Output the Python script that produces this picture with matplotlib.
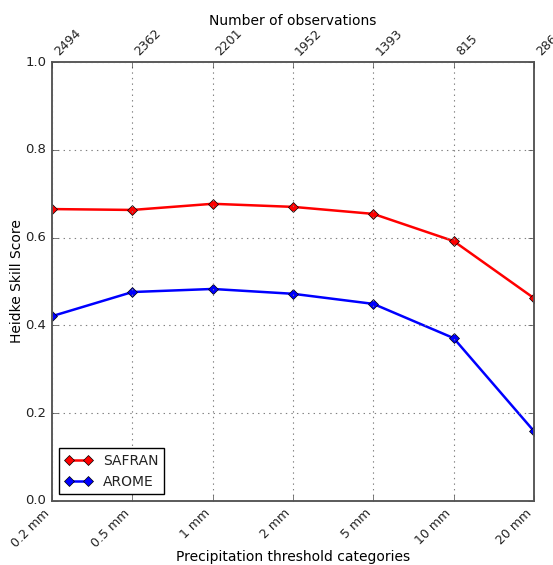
import matplotlib
matplotlib.use("Agg")
import matplotlib.pyplot as plt
import numpy as np

categories = ["0.2 mm", "0.5 mm", "1 mm", "2 mm", "5 mm", "10 mm", "20 mm"]
n_obs = [2494, 2362, 2201, 1952, 1393, 815, 286]
safran = [0.665, 0.663, 0.677, 0.670, 0.654, 0.592, 0.462]
arome = [0.421, 0.476, 0.483, 0.472, 0.449, 0.371, 0.159]

plt.style.use("classic")
plt.rcParams["font.family"] = "DejaVu Sans"
plt.rcParams["text.color"] = "#222222"
plt.rcParams["xtick.color"] = "#444444"
plt.rcParams["ytick.color"] = "#444444"
plt.rcParams["xtick.labelcolor"] = "#222222"
plt.rcParams["ytick.labelcolor"] = "#222222"

fig = plt.figure(figsize=(5.53, 5.65), dpi=100, facecolor="white")
ax = fig.add_axes([52 / 553, 1 - 501 / 565, 482 / 553, 439 / 565])

x = np.arange(len(categories))
ax.plot(x, safran, color="red", lw=1.8, marker="D", ms=5.5, label="SAFRAN")
ax.plot(x, arome, color="blue", lw=1.8, marker="D", ms=5.5, label="AROME")

ax.set_xlim(0, len(categories) - 1)
ax.set_ylim(0, 1)
ax.set_xticks(x)
ax.set_xticklabels(categories, rotation=45, ha="right", fontsize=9)
ax.set_yticks(np.arange(0, 1.01, 0.2))
ax.tick_params(axis="y", labelsize=9.5)
ax.grid(True, color="gray", linestyle=":", linewidth=0.8)
ax.set_xlabel("Precipitation threshold categories", fontsize=10, labelpad=0)
ax.set_ylabel("Heidke Skill Score", fontsize=10, labelpad=1)
ax.legend(loc="lower left", numpoints=2, fontsize=10, handlelength=2,
          borderaxespad=0.5)

ax2 = ax.twiny()
ax2.set_xlim(ax.get_xlim())
ax2.set_xticks(x)
ax2.set_xticklabels([str(n) for n in n_obs], rotation=45, ha="left", fontsize=9)
ax2.tick_params(axis="x", pad=3)
ax2.set_xlabel("Number of observations", fontsize=10, labelpad=1)

for a in (ax, ax2):
    for s in a.spines.values():
        s.set_edgecolor("#555555")
        s.set_linewidth(1.1)

fig.savefig("out.png", dpi=100, facecolor="white")
